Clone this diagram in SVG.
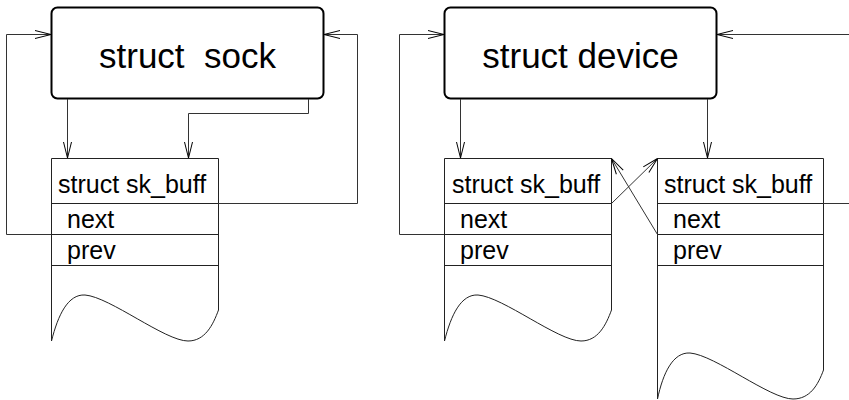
<svg xmlns="http://www.w3.org/2000/svg" width="849" height="400" viewBox="0 0 849 400">
<style>
.big{fill:none;stroke:#000;stroke-width:2}
.box{fill:none;stroke:#222;stroke-width:1}
.con{fill:none;stroke:#333;stroke-width:1}
.t1{font-family:"Liberation Sans",Arial,sans-serif;font-size:35px;fill:#000;white-space:pre}
.t2{font-family:"Liberation Sans",Arial,sans-serif;font-size:25px;fill:#000}
</style>
<defs>
<marker id="ah" markerUnits="userSpaceOnUse" markerWidth="20" markerHeight="12" viewBox="-17 -6 18 12" refX="0" refY="0" orient="auto" overflow="visible">
<path d="M-16,-4 L0,0 L-16,4" fill="none" stroke="#000" stroke-width="1"/>
</marker>
</defs>
<rect width="849" height="400" fill="#fff"/>

<g id="sock">
<rect class="big" x="51.5" y="7.5" width="272" height="91" rx="6"/>
<text class="t1" x="187.5" y="68" text-anchor="middle">struct  sock</text>
</g>

<g id="device">
<rect class="big" x="444.5" y="7.5" width="272" height="91" rx="6"/>
<text class="t1" x="580.5" y="68" text-anchor="middle">struct device</text>
</g>

<g id="skb1">
<path class="box" d="M51.5,341 V158.5 H218.5 V310 C213,325 205,341 188,341 C165,341 110,297 85,295 C68,294 58,315 51.5,341"/>
<path class="box" d="M51,203.5 H218 M51,234.5 H218 M51,265.5 H218"/>
<text class="t2" x="58" y="193">struct sk_buff</text>
<text class="t2" x="67" y="228">next</text>
<text class="t2" x="67" y="259">prev</text>
</g>

<g id="skb2">
<path class="box" d="M444.5,341 V158.5 H611.5 V310 C606,325 598,341 581,341 C558,341 503,297 478,295 C461,294 451,315 444.5,341"/>
<path class="box" d="M444,203.5 H611 M444,234.5 H611 M444,265.5 H611"/>
<text class="t2" x="452" y="193">struct sk_buff</text>
<text class="t2" x="460" y="228">next</text>
<text class="t2" x="460" y="259">prev</text>
</g>

<g id="skb3">
<path class="box" d="M657.5,399 V158.5 H823.5 V370 C818,385 810,399 793,399 C770,399 715,355 690,353 C673,352 663,373 657.5,399"/>
<path class="box" d="M657,203.5 H823 M657,234.5 H823 M657,265.5 H823"/>
<text class="t2" x="664" y="193">struct sk_buff</text>
<text class="t2" x="673" y="228">next</text>
<text class="t2" x="673" y="259">prev</text>
</g>

<g id="connectors">
<path class="con" d="M51,234.5 H6.5 V34.5 H51" marker-end="url(#ah)"/>
<path class="con" d="M218,203.5 H357.5 V34.5 H324" marker-end="url(#ah)"/>
<path class="con" d="M67.5,99 V158" marker-end="url(#ah)"/>
<path class="con" d="M308.5,99 V113.5 H188.5 V158" marker-end="url(#ah)"/>
<path class="con" d="M444,234.5 H399.5 V34.5 H444" marker-end="url(#ah)"/>
<path class="con" d="M849,34.5 H717" marker-end="url(#ah)"/>
<path class="con" d="M823,203.5 H849"/>
<path class="con" d="M460.5,99 V158" marker-end="url(#ah)"/>
<path class="con" d="M707.5,99 V158" marker-end="url(#ah)"/>
<path class="con" d="M611.5,203.5 L657.5,158.5" marker-end="url(#ah)"/>
<path class="con" d="M657.5,234.5 L611.5,158.5" marker-end="url(#ah)"/>
</g>
</svg>
